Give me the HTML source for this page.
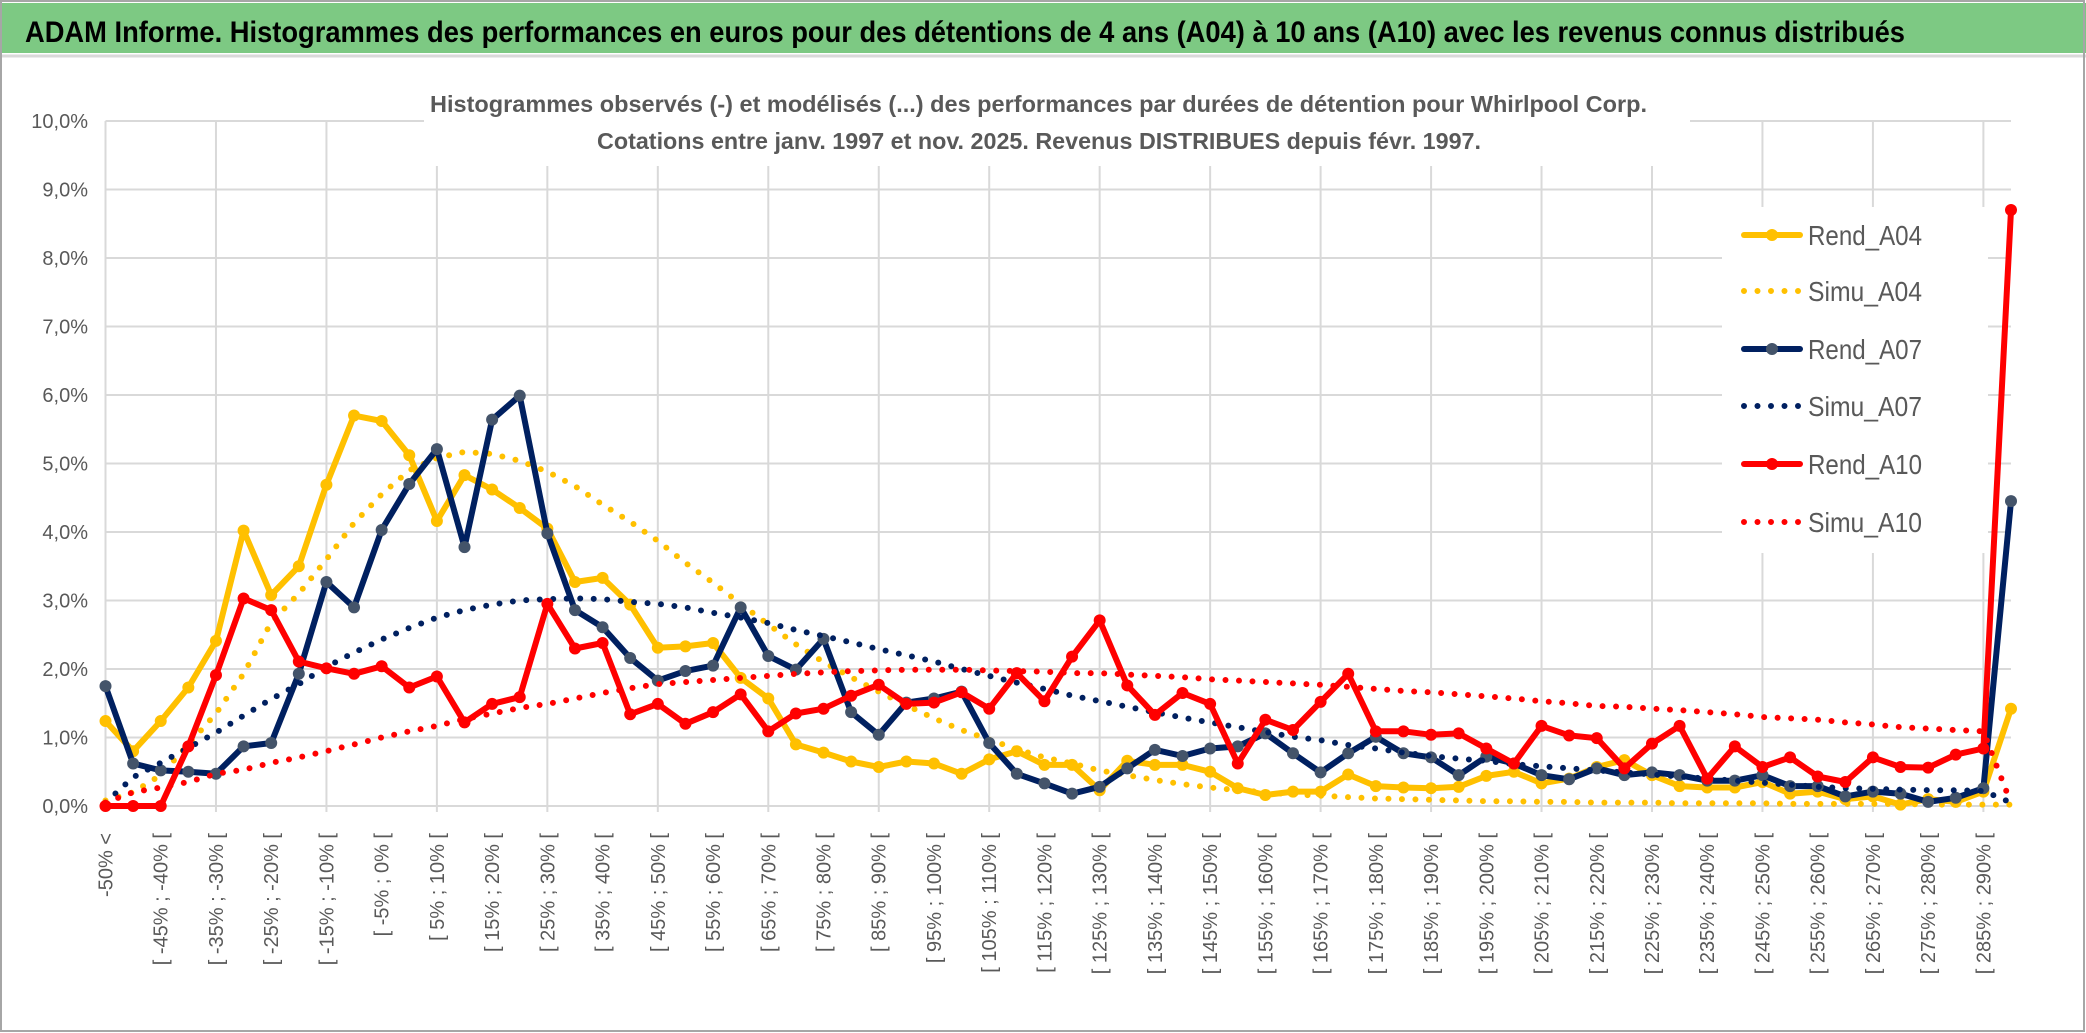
<!DOCTYPE html>
<html><head><meta charset="utf-8"><style>
html,body{margin:0;padding:0;background:#fff;}
svg{display:block;font-family:"Liberation Sans",sans-serif;}
</style></head><body>
<svg id="chart" width="2086" height="1033" viewBox="0 0 2086 1033" xmlns="http://www.w3.org/2000/svg">
<rect x="0" y="0" width="2086" height="1033" fill="#ffffff"/>
<rect x="0" y="3" width="2086" height="50" fill="#7dc983"/>
<line x1="0" y1="56" x2="2086" y2="56" stroke="#d9d9d9" stroke-width="3"/>
<text x="25" y="42" font-size="30" font-weight="bold" fill="#000" textLength="1880" lengthAdjust="spacingAndGlyphs">ADAM Informe. Histogrammes des performances en euros pour des détentions de 4 ans (A04) à 10 ans (A10) avec les revenus connus distribués</text>
<g id="grid"></g>
<g id="yaxis"></g>
<g id="xaxis"></g>
<rect x="424" y="90" width="1266" height="76" fill="#ffffff"/>
<text x="430" y="112" font-size="23" font-weight="bold" fill="#595959" textLength="1217" lengthAdjust="spacingAndGlyphs">Histogrammes observés (-) et modélisés (...) des performances par durées de détention pour Whirlpool Corp.</text>
<text x="597" y="149" font-size="23" font-weight="bold" fill="#595959" textLength="884" lengthAdjust="spacingAndGlyphs">Cotations entre janv. 1997 et nov. 2025. Revenus DISTRIBUES depuis févr. 1997.</text>
<rect x="1722" y="207" width="266" height="346" fill="#ffffff"/>
<g id="series"></g>
<g id="legend"></g>
<rect x="1" y="1" width="2083" height="1030" fill="none" stroke="#a6a6a6" stroke-width="2"/>
</svg>
<script>
var categories = ["-50% <"];
for (var c = 1; c <= 68; c++) { categories.push("[ " + (-55 + 5 * c) + "% ; " + (-50 + 5 * c) + "% ["); }
categories.push("[ 290% ; 295% [");
var yTicks = [0,1,2,3,4,5,6,7,8,9,10];
var yTickLabels = ["0,0%","1,0%","2,0%","3,0%","4,0%","5,0%","6,0%","7,0%","8,0%","9,0%","10,0%"];
var rendA04 = [1.24,0.80,1.24,1.73,2.41,4.02,3.08,3.50,4.69,5.70,5.62,5.12,4.16,4.83,4.62,4.35,4.05,3.27,3.33,2.94,2.31,2.33,2.38,1.87,1.57,0.90,0.78,0.65,0.57,0.65,0.62,0.47,0.68,0.80,0.60,0.60,0.23,0.66,0.60,0.60,0.50,0.26,0.16,0.21,0.21,0.46,0.29,0.27,0.26,0.28,0.44,0.50,0.33,0.40,0.57,0.67,0.45,0.29,0.27,0.27,0.35,0.18,0.21,0.10,0.14,0.02,0.10,0.06,0.21,1.42];
var simuA04 = [0.08,0.2,0.45,0.9,1.35,1.93,2.68,3.1,3.6,4.13,4.55,4.9,5.08,5.17,5.14,5.04,4.88,4.67,4.4,4.15,3.87,3.55,3.26,2.95,2.65,2.36,2.1,1.88,1.67,1.47,1.28,1.11,0.97,0.83,0.71,0.62,0.52,0.45,0.38,0.32,0.27,0.23,0.2,0.17,0.15,0.13,0.11,0.1,0.09,0.08,0.07,0.07,0.06,0.06,0.05,0.05,0.05,0.04,0.04,0.04,0.04,0.03,0.03,0.03,0.03,0.03,0.02,0.02,0.02,0.02];
var rendA07 = [1.75,0.62,0.52,0.50,0.47,0.87,0.92,1.93,3.27,2.90,4.03,4.70,5.21,3.78,5.64,5.99,3.98,2.86,2.61,2.16,1.83,1.97,2.05,2.90,2.19,1.99,2.44,1.37,1.04,1.51,1.57,1.67,0.92,0.47,0.33,0.18,0.28,0.55,0.82,0.73,0.84,0.87,1.06,0.77,0.49,0.77,1.01,0.77,0.71,0.45,0.72,0.62,0.45,0.39,0.55,0.45,0.49,0.45,0.37,0.37,0.45,0.29,0.29,0.14,0.21,0.18,0.06,0.12,0.26,4.45];
var simuA07 = [0.05,0.42,0.63,0.85,1.07,1.32,1.56,1.78,2.03,2.24,2.43,2.6,2.75,2.86,2.94,3.0,3.02,3.03,3.02,2.98,2.95,2.9,2.82,2.75,2.67,2.57,2.48,2.39,2.29,2.2,2.11,2.0,1.9,1.8,1.71,1.61,1.53,1.45,1.37,1.29,1.22,1.15,1.08,1.01,0.96,0.89,0.84,0.78,0.73,0.69,0.66,0.61,0.58,0.55,0.52,0.49,0.46,0.43,0.4,0.37,0.34,0.31,0.28,0.26,0.25,0.24,0.23,0.23,0.22,0.05];
var rendA10 = [0,0,0,0.87,1.91,3.03,2.86,2.11,2.01,1.93,2.04,1.73,1.89,1.22,1.49,1.59,2.95,2.30,2.38,1.34,1.49,1.20,1.37,1.63,1.09,1.35,1.42,1.61,1.77,1.49,1.51,1.66,1.42,1.94,1.53,2.18,2.71,1.76,1.33,1.65,1.49,0.62,1.26,1.11,1.52,1.93,1.09,1.09,1.04,1.06,0.84,0.62,1.17,1.03,0.99,0.55,0.91,1.17,0.40,0.87,0.57,0.71,0.43,0.35,0.71,0.57,0.56,0.75,0.84,8.70];
var simuA10 = [0.05,0.2,0.27,0.35,0.47,0.53,0.63,0.71,0.8,0.9,1.0,1.09,1.17,1.27,1.35,1.43,1.49,1.57,1.65,1.72,1.78,1.81,1.84,1.87,1.9,1.93,1.95,1.97,1.98,1.99,1.99,1.99,1.98,1.97,1.96,1.94,1.94,1.92,1.9,1.88,1.85,1.83,1.81,1.79,1.77,1.74,1.71,1.68,1.66,1.63,1.6,1.57,1.53,1.5,1.46,1.45,1.42,1.4,1.37,1.34,1.3,1.28,1.26,1.22,1.19,1.15,1.13,1.11,1.09,0.04];

var NS = "http://www.w3.org/2000/svg";
var X0 = 105.5, X1 = 2011, Y0 = 806, Y10 = 121;
function xPos(i){ return X0 + (X1 - X0) * i / (categories.length - 1); }
function yPos(v){ return Y0 - (Y0 - Y10) * v / 10; }
function mk(tag, attrs, parent){ var e = document.createElementNS(NS, tag); for (var k in attrs) e.setAttribute(k, attrs[k]); parent.appendChild(e); return e; }

var grid = document.getElementById("grid");
yTicks.forEach(function(t){
  var l = mk("line", {x1: X0, x2: X1, y1: yPos(t), y2: yPos(t), stroke: "#d9d9d9", "stroke-width": 2}, grid);
  
  
});
for (var i = 0; i < categories.length; i += 4) {
  var v = mk("line", {x1: xPos(i), x2: xPos(i), y1: Y10, y2: Y0 + 6, stroke: "#d9d9d9", "stroke-width": 2}, grid);
  
  
}
var yaxis = document.getElementById("yaxis");
yTicks.forEach(function(t, j){
  var tx = mk("text", {x: 88, y: yPos(t) + 7, "text-anchor": "end", "font-size": 20, fill: "#595959"}, yaxis);
  tx.textContent = yTickLabels[j];
  
  
});
var xaxis = document.getElementById("xaxis");
categories.forEach(function(c, i){
  if (i % 2 !== 0 || i > 68) return;
  var x = xPos(i) + 7, y = 833;
  var tx = mk("text", {x: x, y: y, "text-anchor": "end", "font-size": 20, fill: "#595959", transform: "rotate(-90 " + x + " " + y + ")"}, xaxis);
  tx.textContent = c;
  
  
});

var seriesG = document.getElementById("series");
function pts(arr){ return arr.map(function(v, i){ return xPos(i).toFixed(1) + "," + yPos(v).toFixed(1); }).join(" "); }
function solid(arr, color, mcolor, name){
  var g = mk("g", {}, seriesG);
  
  
  var p = mk("polyline", {points: pts(arr), fill: "none", stroke: color, "stroke-width": 6, "stroke-linejoin": "round"}, g);
  
  
  arr.forEach(function(v, i){
    var m = mk("circle", {cx: xPos(i), cy: yPos(v), r: 6, fill: mcolor}, g);
    
    
  });
}
function dotted(arr, color, name){
  var p = mk("polyline", {points: pts(arr), fill: "none", stroke: color, "stroke-width": 6, "stroke-linecap": "round", "stroke-dasharray": "0 13.5"}, seriesG);
  
  
}
solid(rendA04, "#ffc000", "#ffc000", "rend-a04");
dotted(simuA04, "#ffc000", "simu-a04");
solid(rendA07, "#002060", "#44546a", "rend-a07");
dotted(simuA07, "#002060", "simu-a07");
solid(rendA10, "#ff0000", "#ff0000", "rend-a10");
dotted(simuA10, "#ff0000", "simu-a10");

var legend = document.getElementById("legend");
var legItems = [["Rend_A04","#ffc000","#ffc000",false],["Simu_A04","#ffc000","",true],["Rend_A07","#002060","#44546a",false],["Simu_A07","#002060","",true],["Rend_A10","#ff0000","#ff0000",false],["Simu_A10","#ff0000","",true]];
var legY = [235, 291, 349, 406, 464, 522];
legItems.forEach(function(it, j){
  var g = mk("g", {}, legend);
  
  
  var y = legY[j];
  if (it[3]) {
    mk("line", {x1: 1744, x2: 1800, y1: y, y2: y, stroke: it[1], "stroke-width": 6, "stroke-linecap": "round", "stroke-dasharray": "0 13.5"}, g);
  } else {
    mk("line", {x1: 1744, x2: 1800, y1: y, y2: y, stroke: it[1], "stroke-width": 6, "stroke-linecap": "round"}, g);
    mk("circle", {cx: 1772, cy: y, r: 6, fill: it[2]}, g);
  }
  var t = mk("text", {x: 1808, y: y + 10, "font-size": 28, fill: "#595959", textLength: 114, lengthAdjust: "spacingAndGlyphs"}, g);
  t.textContent = it[0];
});
</script>
</body></html>
